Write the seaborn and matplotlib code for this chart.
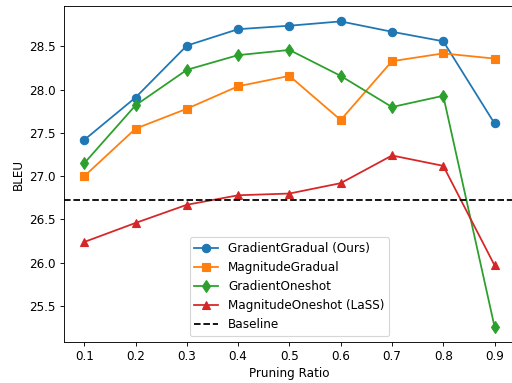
import matplotlib
matplotlib.use("Agg")
import matplotlib.pyplot as plt
import seaborn as sns
import pandas as pd

ratios = [0.1, 0.2, 0.3, 0.4, 0.5, 0.6, 0.7, 0.8, 0.9]
gradient_gradual = [27.42, 27.91, 28.51, 28.70, 28.74, 28.79, 28.67, 28.56, 27.61]
magnitude_gradual = [27.00, 27.55, 27.78, 28.04, 28.16, 27.65, 28.33, 28.42, 28.36]
gradient_oneshot = [27.15, 27.82, 28.23, 28.40, 28.46, 28.16, 27.80, 27.93, 25.26]
magnitude_oneshot = [26.24, 26.46, 26.67, 26.78, 26.80, 26.92, 27.24, 27.12, 25.97]
baseline = 26.73

series = [
    ("GradientGradual (Ours)", gradient_gradual, "o", "#1f77b4"),
    ("MagnitudeGradual", magnitude_gradual, "s", "#ff7f0e"),
    ("GradientOneshot", gradient_oneshot, "d", "#2ca02c"),
    ("MagnitudeOneshot (LaSS)", magnitude_oneshot, "^", "#d62728"),
]

plt.rcParams["font.size"] = 10.8

fig, ax = plt.subplots(figsize=(6.4, 4.7875), dpi=80)
fig.subplots_adjust(left=0.1245, right=1.006, top=0.984, bottom=0.107)

for name, vals, mk, col in series:
    df = pd.DataFrame({"x": ratios, "y": vals})
    sns.lineplot(data=df, x="x", y="y", ax=ax, marker=mk, color=col, label=name,
                 markersize=7.5, markeredgecolor=col, markeredgewidth=1, linewidth=1.6)

ax.axhline(baseline, color="black", linestyle="--", linewidth=1.6, label="Baseline")
ax.set_xticks(ratios)
ax.set_xticklabels([str(r) for r in ratios])
ax.set_xlabel("Pruning Ratio")
ax.set_ylabel("BLEU")
ax.legend(loc="lower center")
fig.savefig("out.png", dpi=80)
